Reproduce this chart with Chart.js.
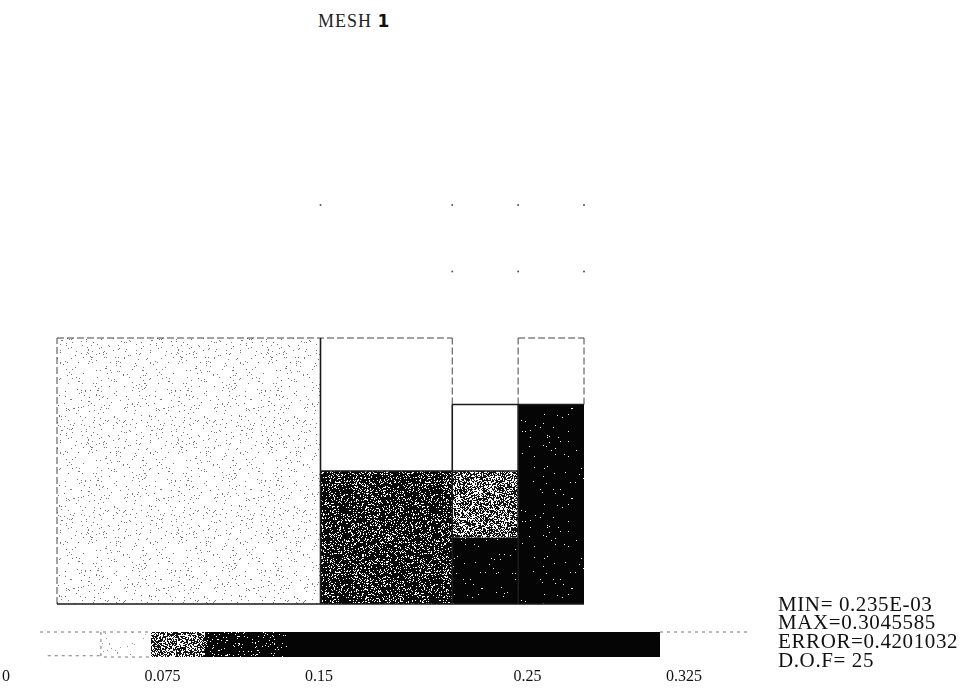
<!DOCTYPE html>
<html>
<head>
<meta charset="utf-8">
<script src="https://cdn.jsdelivr.net/npm/chart.js@4"></script>
<style>
    html, body { margin: 0; padding: 0; background: #fff; }
    body { width: 976px; height: 690px; position: relative; overflow: hidden; font-family: "Liberation Serif", "DejaVu Serif", serif; color: #111; }
    #meshBox { position: absolute; left: 0; top: 0; width: 976px; height: 620px; }
    #barBox { position: absolute; left: -8px; top: 620px; width: 984px; height: 70px; }
    #title { position: absolute; left: 318px; top: 11px; font-size: 18px; letter-spacing: 1px; color: #222; }
    #title b { font-family: "DejaVu Sans", sans-serif; font-size: 17px; color: #111; }
    .stat { position: absolute; left: 778px; font-size: 21px; letter-spacing: 0.6px; white-space: nowrap; line-height: 19px; }
</style>
</head>
<body>
<div id="title">MESH <b>1</b></div>
<div id="meshBox"><canvas id="meshChart"></canvas></div>
<div id="barBox"><canvas id="barChart"></canvas></div>
<div class="stat" style="top:595px">MIN= 0.235E-03</div>
<div class="stat" style="top:613px">MAX=0.3045585</div>
<div class="stat" style="top:632px">ERROR=0.4201032</div>
<div class="stat" style="top:651px">D.O.F= 25</div>
<script>
// mesh cells (element corners in mesh units) and the value in each
const cellX0 = [0, 4, 4, 6, 6, 6, 6, 7, 7]
const cellX1 = [4, 6, 6, 7, 7, 7, 7, 8, 8]
const cellY0 = [0, 2, 0, 1, 0, 2, 3, 0, 3]
const cellY1 = [4, 4, 2, 2, 1, 3, 4, 3, 4]
const cellValue = [0.055, 0.02, 0.11, 0.08, 0.16, 0.03, 0.01, 0.3045, 0.02]

// free nodes above the mesh
const nodeX = [4, 6, 7, 8, 6, 7, 8]
const nodeY = [6, 6, 6, 6, 5, 5, 5]

// colour bar level edges and tick labels
const levelEdges = [0.0455, 0.0695, 0.0954, 0.1347, 0.3135]
const tickValues = [0, 0.075, 0.15, 0.25, 0.325]

// mesh edges, drawn solid or dashed
const solidEdges = [[[4, 0], [4, 4]], [[4, 2], [7, 2]], [[6, 0], [6, 3]], [[6, 3], [8, 3]], [[0, 0], [8, 0]], [[7, 0], [7, 3]]]
const dashedEdges = [[[0, 0], [0, 4]], [[0, 4], [6, 4]], [[6, 3], [6, 4]], [[7, 3], [7, 4]], [[7, 4], [8, 4]], [[8, 3], [8, 4]]]

function hash(x, y, seed) {
    const s = Math.sin(x * 12.9898 + y * 78.233 + seed * 37.719) * 43758.5453
    return s - Math.floor(s)
}

function speckle(base, ink, density, seed) {
    const c = document.createElement("canvas")
    c.width = 90
    c.height = 90
    const g = c.getContext("2d")
    g.fillStyle = base
    g.fillRect(0, 0, 90, 90)
    g.fillStyle = ink
    for (let y = 0; y < 90; y++) {
        for (let x = 0; x < 90; x++) {
            if (hash(x, y, seed) < density) g.fillRect(x, y, 1, 1)
        }
    }
    return g.createPattern(c, "repeat")
}

const shades = [
    speckle("#ffffff", "#777777", 0.035, 1),
    speckle("#ffffff", "#111111", 0.55, 2),
    speckle("#080808", "#ffffff", 0.18, 3),
    speckle("#050505", "#ffffff", 0.01, 4),
]
const barShades = [
    speckle("#ffffff", "#999999", 0.01, 5),
    speckle("#ffffff", "#111111", 0.55, 6),
    speckle("#050505", "#ffffff", 0.05, 7),
    "#050505",
]

function shadeFor(v) {
    if (v < levelEdges[0]) return "#ffffff"
    for (let i = 1; i < levelEdges.length; i++) {
        if (v < levelEdges[i]) return shades[i - 1]
    }
    return shades[shades.length - 1]
}

function box(x0, x1, y0, y1) {
    return [{ x: x0, y: y0 }, { x: x1, y: y0 }, { x: x1, y: y1 }, { x: x0, y: y1 }, { x: x0, y: y0 }]
}

function segments(list) {
    const out = []
    list.forEach((s) => {
        out.push({ x: s[0][0], y: s[0][1] }, { x: s[1][0], y: s[1][1] }, { x: s[1][0], y: null })
    })
    return out
}

const meshSets = cellX0.map((x0, i) => ({
    data: box(x0, cellX1[i], cellY0[i], cellY1[i]),
    showLine: true,
    fill: "shape",
    backgroundColor: shadeFor(cellValue[i]),
    borderWidth: 0,
    pointRadius: 0,
    clip: false,
    order: 5,
}))

meshSets.push({
    data: segments(dashedEdges),
    showLine: true,
    spanGaps: false,
    borderColor: "#444",
    borderWidth: 1,
    borderDash: [7, 3],
    pointRadius: 0,
    clip: false,
    order: 1,
})
meshSets.push({
    data: segments(solidEdges),
    showLine: true,
    spanGaps: false,
    borderColor: "#1a1a1a",
    borderWidth: 1.6,
    pointRadius: 0,
    clip: false,
    order: 0,
})
meshSets.push({
    data: nodeX.map((x, i) => ({ x: x, y: nodeY[i] })),
    pointRadius: 1,
    pointBackgroundColor: "#555",
    pointBorderWidth: 0,
    clip: false,
    order: 0,
})

new Chart(document.getElementById("meshChart"), {
    type: "scatter",
    data: { datasets: meshSets },
    options: {
        responsive: true,
        maintainAspectRatio: false,
        animation: false,
        layout: { padding: { left: 57, right: 392, top: 205, bottom: 16 } },
        plugins: { legend: { display: false }, tooltip: { enabled: false }, title: { display: false } },
        scales: {
            x: { type: "linear", min: 0, max: 8, display: false },
            y: { type: "linear", min: 0, max: 6, display: false },
        },
    },
})

// colour bar
const barSets = []
for (let i = 0; i < levelEdges.length - 1; i++) {
    barSets.push({
        data: box(levelEdges[i], levelEdges[i + 1], 0, 1),
        showLine: true,
        fill: "shape",
        backgroundColor: barShades[i],
        borderWidth: 0,
        pointRadius: 0,
        clip: false,
        order: 5,
    })
}
barSets.push({
    data: [{ x: levelEdges[0], y: 1 }, { x: levelEdges[0], y: 0 }, { x: levelEdges[1], y: 0 }, { x: levelEdges[1], y: null },
        { x: 0.0163, y: 1 }, { x: levelEdges[1], y: 1 }, { x: 0.0163, y: null },
        { x: 0.02, y: 0.05 }, { x: levelEdges[0], y: 0.05 }, { x: 0.02, y: null },
        { x: levelEdges[4], y: 1 }, { x: 0.3557, y: 1 }],
    showLine: true,
    spanGaps: false,
    borderColor: "#777",
    borderWidth: 1,
    borderDash: [3, 4],
    pointRadius: 0,
    clip: false,
    order: 0,
})

new Chart(document.getElementById("barChart"), {
    type: "scatter",
    data: { datasets: barSets },
    options: {
        responsive: true,
        maintainAspectRatio: false,
        animation: false,
        layout: { padding: { left: 6, right: 219, top: 12, bottom: 0 } },
        plugins: { legend: { display: false }, tooltip: { enabled: false } },
        scales: {
            x: {
                type: "linear",
                min: 0,
                max: 0.36,
                grid: { display: false, drawTicks: false },
                border: { display: false },
                afterBuildTicks: (scale) => {
                    scale.ticks = tickValues.map((v) => ({ value: v }))
                },
                afterFit: (scale) => {
                    scale.height = 33
                },
                ticks: {
                    padding: 10,
                    maxRotation: 0,
                    autoSkip: false,
                    color: "#111",
                    font: { family: "Liberation Serif", size: 16 },
                    callback: (v) => String(v),
                },
            },
            y: { type: "linear", min: 0, max: 1, display: false },
        },
    },
})
</script>
</body>
</html>
